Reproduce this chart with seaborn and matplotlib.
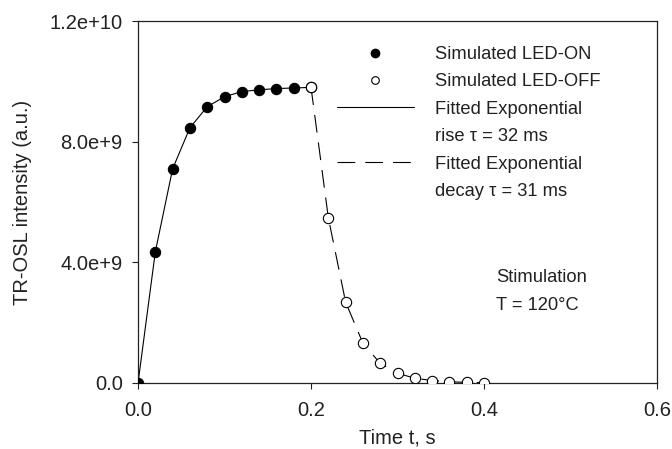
import matplotlib
matplotlib.use("Agg")
import matplotlib.pyplot as plt
from matplotlib.lines import Line2D
import seaborn as sns
import pandas as pd

# values
t_on = [0.00, 0.02, 0.04, 0.06, 0.08, 0.10, 0.12, 0.14, 0.16, 0.18, 0.20]
led_on = [0.0, 4.35e9, 7.10e9, 8.46e9, 9.16e9, 9.49e9, 9.66e9, 9.72e9, 9.76e9, 9.78e9, 9.80e9]
t_off = [0.20, 0.22, 0.24, 0.26, 0.28, 0.30, 0.32, 0.34, 0.36, 0.38, 0.40]
led_off = [9.80e9, 5.48e9, 2.68e9, 1.32e9, 0.65e9, 0.32e9, 0.16e9, 0.08e9, 0.04e9, 0.02e9, 0.01e9]

x_ticks = [0.0, 0.2, 0.4, 0.6]
x_tick_labels = ["0.0", "0.2", "0.4", "0.6"]
y_ticks = [0.0, 4.0e9, 8.0e9, 1.2e10]
y_tick_labels = ["0.0", "4.0e+9", "8.0e+9", "1.2e+10"]

on_df = pd.DataFrame({"t": t_on, "I": led_on})
off_df = pd.DataFrame({"t": t_off, "I": led_off})

sns.set_style("ticks")
plt.rcParams["font.family"] = ["Liberation Sans", "DejaVu Sans"]

fig = plt.figure(figsize=(6.72, 4.49), dpi=100)
ax = fig.add_axes([0.2054, 0.147, 0.7723, 0.8062])

dash = (0, (16, 9))
sns.lineplot(data=on_df, x="t", y="I", ax=ax, color="black", lw=0.8)
sns.lineplot(data=off_df, x="t", y="I", ax=ax, color="black", lw=0.8, linestyle=dash)
sns.scatterplot(data=on_df, x="t", y="I", ax=ax, color="black", s=55,
                edgecolor="black", linewidth=0.8, zorder=3)
sns.scatterplot(data=off_df, x="t", y="I", ax=ax, facecolor="white", s=55,
                edgecolor="black", linewidth=0.8, zorder=3)

ax.set_xlim(0, 0.6)
ax.set_ylim(0, 1.2e10)
ax.set_xticks(x_ticks)
ax.set_xticklabels(x_tick_labels)
ax.set_yticks(y_ticks)
ax.set_yticklabels(y_tick_labels)
ax.tick_params(direction="out", length=4, width=0.8, labelsize=14.5, colors="#222222")
ax.tick_params(axis="y", pad=7)
ax.tick_params(axis="x", pad=9)
for sp in ax.spines.values():
    sp.set_linewidth(0.9)
    sp.set_color("#222222")

ax.set_xlabel("Time t, s", fontsize=14.5, color="#222222", labelpad=6)
ax.set_ylabel("TR-OSL intensity (a.u.)", fontsize=14.5, color="#222222", labelpad=12.5)

handles = [
    Line2D([], [], ls="none", marker="o", ms=6, mfc="black", mec="black"),
    Line2D([], [], ls="none", marker="o", ms=5.5, mfc="white", mec="black", mew=0.8),
    Line2D([], [], color="black", lw=0.8),
    Line2D([], [], ls="none"),
    Line2D([], [], color="black", lw=0.8, ls=dash),
    Line2D([], [], ls="none"),
]
labels = ["Simulated LED-ON", "Simulated LED-OFF", "Fitted Exponential",
          "rise \u03c4 = 32 ms", "Fitted Exponential", "decay \u03c4 = 31 ms"]
ax.legend(handles, labels, loc="upper left", bbox_to_anchor=(0.383, 0.931),
          frameon=False, fontsize=13.2, handlelength=4.2, handletextpad=1.15,
          labelspacing=0.57, borderpad=0, borderaxespad=0, labelcolor="#222222")

ax.text(0.69, 0.253, "Stimulation\nT = 120\u00b0C", transform=ax.transAxes,
        fontsize=13.2, color="#222222", va="center", ha="left", linespacing=1.85)

fig.savefig("out.png", dpi=100)
